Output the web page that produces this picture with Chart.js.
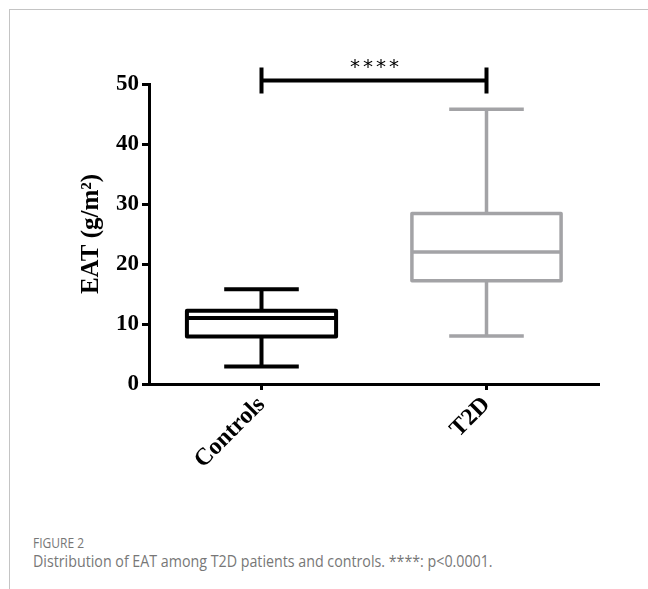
<!DOCTYPE html>
<html><head><meta charset="utf-8">
<script src="https://cdn.jsdelivr.net/npm/chart.js@4.4.1/dist/chart.umd.min.js"></script>
<style>
html,body{margin:0;padding:0;background:#fff;width:648px;height:589px;overflow:hidden;}
#frameTop{position:absolute;left:9px;top:9px;width:639px;height:1px;background:#c4c4c4;}
#frameLeft{position:absolute;left:9px;top:9px;width:1px;height:580px;background:#c4c4c4;}
#wrap{position:absolute;left:0;top:0;width:648px;height:505px;}
#fig{position:absolute;left:33px;top:532px;font-family:'Open Sans';font-size:15px;color:#777;transform:scaleX(0.8);transform-origin:0 0;white-space:nowrap;line-height:20px;}
#cap{position:absolute;left:33px;top:551px;font-family:'Open Sans';font-size:16px;color:#777;transform:scaleX(0.89);transform-origin:0 0;white-space:nowrap;line-height:20px;}
</style></head>
<body>
<div id="frameTop"></div><div id="frameLeft"></div>
<div id="wrap"><canvas id="c" width="648" height="505"></canvas></div>
<div id="fig">FIGURE 2</div>
<div id="cap">Distribution of EAT among T2D patients and controls. ****: p&lt;0.0001.</div>
<script>
const categories = ['Controls', 'T2D'];
const whiskerMin = [2.9, 8.0];
const q1 = [7.9, 17.2];
const median = [11.0, 22.0];
const q3 = [12.2, 28.4];
const whiskerMax = [15.8, 45.8];
const yTicks = [0, 10, 20, 30, 40, 50];
const sigLevel = 50.6;
const sigLabel = '****';
const boxColors = ['#000000', '#a3a3a6'];
const boxWidths = [4, 3.5];

const boxPlugin = {
  id: 'boxParts',
  afterDatasetsDraw(chart) {
    const ctx = chart.ctx, xs = chart.scales.x, ys = chart.scales.y;
    const meta = chart.getDatasetMeta(0);
    categories.forEach((c, i) => {
      const bar = meta.data[i];
      const x = xs.getPixelForValue(i), w = bar.width, lw = boxWidths[i];
      const yq3 = ys.getPixelForValue(q3[i]), yq1 = ys.getPixelForValue(q1[i]);
      const yMax = ys.getPixelForValue(whiskerMax[i]), yMin = ys.getPixelForValue(whiskerMin[i]);
      const ym = ys.getPixelForValue(median[i]);
      ctx.save();
      ctx.strokeStyle = boxColors[i];
      ctx.lineWidth = lw;
      ctx.lineJoin = 'round';
      ctx.lineCap = 'butt';
      ctx.beginPath();
      ctx.rect(x - w / 2, yq3, w, yq1 - yq3);
      ctx.moveTo(x - w / 2, ym); ctx.lineTo(x + w / 2, ym);
      ctx.moveTo(x, yq3); ctx.lineTo(x, yMax);
      ctx.moveTo(x, yq1); ctx.lineTo(x, yMin);
      ctx.moveTo(x - w / 4, yMax); ctx.lineTo(x + w / 4, yMax);
      ctx.moveTo(x - w / 4, yMin); ctx.lineTo(x + w / 4, yMin);
      ctx.stroke();
      ctx.restore();
    });
  },
  afterDraw(chart) {
    const ctx = chart.ctx, xs = chart.scales.x, ys = chart.scales.y;
    const x0 = xs.getPixelForValue(0), x1 = xs.getPixelForValue(1);
    const y = ys.getPixelForValue(sigLevel);
    ctx.save();
    ctx.strokeStyle = '#000';
    ctx.lineWidth = 4;
    ctx.beginPath();
    ctx.moveTo(x0, y); ctx.lineTo(x1, y);
    ctx.moveTo(x0, y - 13); ctx.lineTo(x0, y + 13);
    ctx.moveTo(x1, y - 13); ctx.lineTo(x1, y + 13);
    ctx.stroke();
    ctx.fillStyle = '#000';
    ctx.font = '20px "DejaVu Sans"';
    ctx.letterSpacing = '3px';
    ctx.textAlign = 'center';
    ctx.textBaseline = 'middle';
    ctx.fillText(sigLabel, (x0 + x1) / 2 + 2, y - 13);
    ctx.restore();
  }
};

new Chart(document.getElementById('c'), {
  type: 'bar',
  data: {
    labels: categories,
    datasets: [{
      data: categories.map((c, i) => [q1[i], q3[i]]),
      backgroundColor: 'rgba(0,0,0,0)',
      borderColor: boxColors,
      borderWidth: 0,
      barPercentage: 0.663,
      categoryPercentage: 1
    }]
  },
  options: {
    responsive: false,
    animation: false,
    events: [],
    layout: { padding: { left: 73, top: 84, right: 49, bottom: 0 } },
    plugins: { legend: { display: false }, tooltip: { enabled: false } },
    scales: {
      x: {
        type: 'category',
        offset: true,
        grid: { display: true, drawOnChartArea: false, drawTicks: true, tickLength: 6, tickWidth: 3, tickColor: '#000', offset: false },
        border: { display: true, width: 3, color: '#000' },
        ticks: { color: '#000', font: { family: '"Liberation Serif"', size: 24, weight: 'bold' }, maxRotation: 45, minRotation: 45, padding: 1 },
        afterFit(scale) { scale.height = 121; }
      },
      y: {
        min: 0, max: 50,
        afterBuildTicks(scale) { scale.ticks = yTicks.map(v => ({ value: v })); },
        grid: { display: true, drawOnChartArea: false, drawTicks: true, tickLength: 7, tickWidth: 3, tickColor: '#000' },
        border: { display: true, width: 3, color: '#000' },
        ticks: { color: '#000', font: { family: '"Liberation Serif"', size: 23, weight: 'bold' }, padding: 3 },
        title: { display: true, text: 'EAT (g/m²)', color: '#000', font: { family: '"Liberation Serif"', size: 25, weight: 'bold' }, padding: { top: 4, bottom: 0 } },
        afterFit(scale) { scale.width = 76; }
      }
    }
  },
  plugins: [boxPlugin]
});
</script>
</body></html>
